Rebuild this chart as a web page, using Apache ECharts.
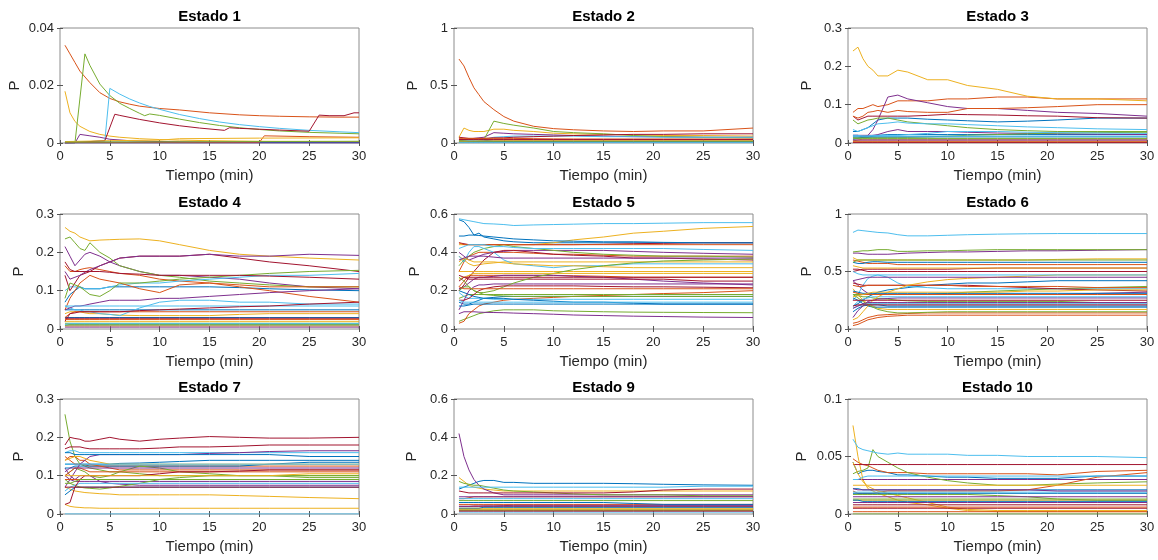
<!DOCTYPE html>
<html>
<head>
<meta charset="utf-8">
<title>Estados</title>
<script src="https://cdn.jsdelivr.net/npm/echarts@6/dist/echarts.min.js"></script>
<style>
  html, body { margin: 0; padding: 0; background: #fff; }
  #chart { width: 1158px; height: 560px; }
</style>
</head>
<body>
<div id="chart"></div>
<script>
// Common sampling times (min) for states 2-10
const tiempo = [0.5, 1, 1.5, 2, 2.5, 3, 4, 5, 6, 8, 10, 12, 15, 18, 21, 25, 30];

// State 1: irregular jumps, stored as [t, P] pairs
const estado1 = [
  [[0.5,0.0004],[5,0.0003],[15,0.0002],[30,0.0002]],
  [[0.5,0.034],[1,0.031],[1.5,0.028],[2,0.025],[3,0.021],[4,0.0175],[5,0.0155],[6,0.0143],[7,0.0135],[8,0.0128],[10,0.012],[12,0.0115],[15,0.0105],[18,0.0098],[20,0.0095],[22,0.0093],[25,0.0091],[28,0.009],[30,0.009]],
  [[0.5,0.018],[1,0.0105],[1.5,0.0075],[2,0.0058],[3,0.004],[4,0.003],[5,0.0024],[6,0.002],[8,0.0015],[10,0.0012],[12,0.001],[15,0.0008],[20,0.0006],[30,0.0005]],
  [[0.5,0],[1.5,0],[2,0.003],[3,0.0025],[4,0.002],[5,0.0013],[7,0.0008],[10,0.0005],[15,0.0003],[30,0.0002]],
  [[0.5,0],[1.5,0],[2.5,0.031],[3,0.027],[4,0.0205],[5,0.0165],[6,0.0138],[7,0.012],[8,0.0103],[8.5,0.0095],[9,0.0101],[10,0.0096],[12,0.0083],[14,0.0071],[16,0.0061],[18,0.0053],[20,0.0047],[22,0.0042],[25,0.0037],[28,0.0034],[30,0.0032]],
  [[0.5,0],[4.5,0.0008],[5,0.019],[6,0.017],[7,0.0153],[8,0.0139],[9,0.0127],[10,0.0117],[12,0.0099],[14,0.0085],[16,0.0073],[18,0.0064],[20,0.0057],[22,0.0051],[25,0.0044],[28,0.0039],[30,0.0036]],
  [[0.5,0],[4.5,0.0008],[5.5,0.01],[6,0.0096],[8,0.0082],[10,0.007],[12,0.006],[14,0.0052],[16.5,0.0044],[17,0.0053],[18,0.0051],[20,0.0048],[22,0.0045],[25,0.0041],[26,0.0097],[27,0.0095],[28.5,0.0095],[29.5,0.0105],[30,0.0105]],
  [[0.5,0.0001],[30,0.0001]],
  [[0.5,0.0002],[20,0.0002],[20.5,0.0025],[25,0.0022],[30,0.002]],
  [[0.5,0.0005],[5,0.0008],[10,0.001],[12,0.0015],[20,0.0017],[30,0.0018]],
  [[0.5,0],[30,0]],
  [[0.5,0.0003],[30,0.0006]]
];

const estado2 = [
  [0.02,0.02,0.02,0.02,0.02,0.02,0.025,0.025,0.025,0.025,0.025,0.025,0.025,0.025,0.025,0.025,0.025],
  [0.73,0.67,0.57,0.48,0.42,0.36,0.29,0.23,0.19,0.145,0.125,0.115,0.105,0.1,0.105,0.105,0.13],
  [0.05,0.13,0.11,0.1,0.1,0.1,0.12,0.12,0.11,0.1,0.085,0.08,0.075,0.07,0.065,0.065,0.06],
  [0.03,0.03,0.035,0.04,0.045,0.05,0.09,0.085,0.08,0.075,0.07,0.065,0.06,0.055,0.055,0.05,0.05],
  [0.02,0.02,0.025,0.025,0.025,0.03,0.19,0.17,0.155,0.13,0.1,0.09,0.08,0.065,0.055,0.05,0.045],
  [0.01,0.015,0.02,0.02,0.025,0.03,0.05,0.055,0.06,0.06,0.06,0.06,0.055,0.055,0.05,0.05,0.05],
  [0.05,0.045,0.04,0.04,0.04,0.04,0.045,0.045,0.05,0.055,0.06,0.065,0.07,0.075,0.075,0.08,0.08],
  [0.01,0.01,0.012,0.012,0.012,0.012,0.012,0.012,0.012,0.012,0.012,0.012,0.012,0.012,0.012,0.012,0.012],
  [0.04,0.04,0.04,0.04,0.04,0.04,0.04,0.04,0.04,0.038,0.036,0.035,0.035,0.035,0.035,0.035,0.035],
  [0.015,0.015,0.016,0.017,0.018,0.018,0.019,0.02,0.02,0.02,0.02,0.02,0.02,0.02,0.02,0.02,0.02],
  [0.005,0.005,0.005,0.005,0.005,0.005,0.005,0.005,0.005,0.005,0.005,0.005,0.005,0.005,0.005,0.005,0.005],
  [0.008,0.008,0.008,0.009,0.009,0.009,0.01,0.01,0.01,0.01,0.01,0.01,0.01,0.01,0.01,0.01,0.01],
  [0.003,0.003,0.003,0.003,0.003,0.003,0.003,0.003,0.003,0.003,0.003,0.003,0.003,0.003,0.003,0.003,0.003],
  [0.03,0.03,0.03,0.03,0.03,0.03,0.03,0.03,0.03,0.03,0.03,0.03,0.03,0.03,0.03,0.03,0.03]
];

const estado3 = [
  [0.03,0.03,0.035,0.04,0.05,0.06,0.065,0.065,0.065,0.062,0.06,0.058,0.055,0.057,0.06,0.065,0.065],
  [0.08,0.09,0.09,0.095,0.1,0.095,0.1,0.11,0.11,0.11,0.115,0.115,0.12,0.12,0.115,0.115,0.115],
  [0.24,0.25,0.22,0.2,0.19,0.175,0.175,0.19,0.185,0.165,0.165,0.15,0.14,0.122,0.115,0.115,0.11],
  [0.02,0.02,0.015,0.02,0.035,0.06,0.12,0.125,0.115,0.105,0.095,0.09,0.09,0.085,0.08,0.077,0.07],
  [0.06,0.05,0.055,0.06,0.062,0.065,0.065,0.06,0.055,0.05,0.045,0.04,0.035,0.032,0.03,0.03,0.03],
  [0.035,0.03,0.035,0.04,0.045,0.05,0.052,0.055,0.052,0.05,0.05,0.048,0.045,0.042,0.04,0.037,0.035],
  [0.07,0.06,0.065,0.07,0.07,0.07,0.07,0.07,0.07,0.072,0.075,0.074,0.073,0.071,0.07,0.066,0.065],
  [0.01,0.012,0.015,0.015,0.018,0.02,0.022,0.022,0.022,0.022,0.022,0.022,0.022,0.022,0.022,0.022,0.022],
  [0.07,0.065,0.07,0.08,0.082,0.085,0.08,0.085,0.082,0.08,0.08,0.09,0.09,0.092,0.095,0.1,0.1],
  [0.005,0.008,0.01,0.01,0.01,0.01,0.01,0.01,0.01,0.01,0.01,0.01,0.01,0.01,0.01,0.01,0.01],
  [0.02,0.02,0.02,0.02,0.02,0.022,0.03,0.035,0.03,0.03,0.03,0.028,0.026,0.025,0.024,0.023,0.022],
  [0.015,0.015,0.015,0.015,0.015,0.015,0.015,0.015,0.015,0.016,0.018,0.02,0.022,0.024,0.026,0.027,0.028],
  [0.02,0.02,0.018,0.018,0.02,0.02,0.02,0.02,0.022,0.025,0.03,0.03,0.03,0.028,0.027,0.026,0.025],
  [0.005,0.005,0.005,0.005,0.005,0.005,0.005,0.005,0.005,0.005,0.005,0.005,0.005,0.005,0.005,0.005,0.005],
  [0.016,0.016,0.016,0.016,0.016,0.016,0.016,0.016,0.016,0.016,0.016,0.016,0.016,0.016,0.016,0.016,0.016],
  [0.003,0.003,0.003,0.003,0.003,0.003,0.003,0.003,0.003,0.003,0.003,0.003,0.003,0.003,0.003,0.003,0.003],
  [0.002,0.002,0.002,0.002,0.002,0.002,0.002,0.002,0.002,0.002,0.002,0.002,0.002,0.002,0.002,0.002,0.002],
  [0.008,0.008,0.008,0.008,0.008,0.008,0.008,0.008,0.008,0.008,0.008,0.008,0.008,0.008,0.008,0.008,0.008],
  [0.012,0.012,0.012,0.012,0.012,0.012,0.012,0.012,0.012,0.012,0.012,0.012,0.012,0.012,0.012,0.012,0.012],
  [0.018,0.018,0.018,0.018,0.018,0.018,0.018,0.018,0.018,0.018,0.018,0.018,0.018,0.018,0.018,0.018,0.018],
  [0.001,0.001,0.001,0.001,0.001,0.001,0.001,0.001,0.001,0.001,0.001,0.001,0.001,0.001,0.001,0.001,0.001]
];

const estado4 = [
  [0.07,0.09,0.1,0.11,0.105,0.105,0.105,0.11,0.11,0.11,0.11,0.11,0.11,0.108,0.105,0.102,0.1],
  [0.165,0.15,0.15,0.155,0.158,0.16,0.155,0.15,0.145,0.14,0.13,0.125,0.12,0.11,0.1,0.085,0.07],
  [0.265,0.255,0.25,0.24,0.235,0.23,0.232,0.233,0.234,0.235,0.23,0.22,0.205,0.195,0.19,0.185,0.18],
  [0.215,0.19,0.165,0.18,0.195,0.2,0.19,0.175,0.165,0.15,0.14,0.14,0.135,0.13,0.12,0.11,0.105],
  [0.235,0.24,0.225,0.21,0.205,0.225,0.2,0.185,0.165,0.15,0.14,0.135,0.125,0.12,0.115,0.11,0.11],
  [0.1,0.11,0.11,0.108,0.105,0.105,0.105,0.11,0.115,0.12,0.12,0.125,0.13,0.135,0.14,0.14,0.145],
  [0.14,0.1,0.12,0.14,0.145,0.15,0.165,0.175,0.185,0.19,0.19,0.19,0.195,0.185,0.175,0.165,0.15],
  [0.05,0.05,0.05,0.05,0.05,0.05,0.05,0.05,0.05,0.05,0.05,0.05,0.05,0.05,0.05,0.05,0.05],
  [0.05,0.08,0.1,0.12,0.13,0.14,0.13,0.125,0.12,0.105,0.095,0.115,0.12,0.115,0.11,0.11,0.11],
  [0.04,0.045,0.045,0.045,0.042,0.04,0.04,0.038,0.036,0.035,0.035,0.035,0.035,0.038,0.04,0.04,0.04],
  [0.15,0.13,0.135,0.14,0.148,0.155,0.165,0.175,0.185,0.19,0.19,0.19,0.195,0.19,0.19,0.195,0.192],
  [0.08,0.12,0.115,0.11,0.1,0.09,0.085,0.1,0.12,0.12,0.125,0.13,0.135,0.14,0.145,0.15,0.153],
  [0.06,0.055,0.05,0.05,0.045,0.045,0.04,0.038,0.035,0.055,0.07,0.075,0.075,0.07,0.07,0.065,0.065],
  [0.175,0.155,0.15,0.15,0.15,0.15,0.15,0.148,0.145,0.143,0.14,0.14,0.14,0.14,0.138,0.135,0.13],
  [0.03,0.03,0.03,0.03,0.03,0.03,0.03,0.03,0.03,0.03,0.03,0.03,0.03,0.03,0.03,0.03,0.03],
  [0.03,0.04,0.045,0.045,0.045,0.045,0.045,0.045,0.045,0.045,0.045,0.045,0.045,0.045,0.045,0.045,0.045],
  [0.02,0.02,0.02,0.02,0.02,0.02,0.02,0.02,0.02,0.02,0.02,0.02,0.02,0.02,0.02,0.02,0.02],
  [0.05,0.055,0.06,0.06,0.062,0.065,0.07,0.075,0.075,0.075,0.08,0.08,0.085,0.09,0.095,0.1,0.105],
  [0.015,0.015,0.015,0.015,0.015,0.015,0.015,0.015,0.015,0.015,0.015,0.015,0.015,0.015,0.015,0.015,0.015],
  [0.06,0.06,0.06,0.06,0.06,0.06,0.06,0.06,0.06,0.06,0.06,0.06,0.06,0.06,0.06,0.06,0.06],
  [0.02,0.04,0.042,0.045,0.045,0.045,0.045,0.045,0.045,0.048,0.05,0.052,0.055,0.058,0.06,0.065,0.07],
  [0.01,0.01,0.01,0.01,0.01,0.01,0.01,0.01,0.01,0.01,0.01,0.01,0.01,0.01,0.01,0.01,0.01],
  [0.025,0.025,0.025,0.025,0.025,0.025,0.025,0.025,0.025,0.025,0.025,0.025,0.025,0.025,0.025,0.025,0.025],
  [0.008,0.008,0.008,0.008,0.008,0.008,0.008,0.008,0.008,0.008,0.008,0.008,0.008,0.008,0.008,0.008,0.008],
  [0.005,0.005,0.005,0.005,0.005,0.005,0.005,0.005,0.005,0.005,0.005,0.005,0.005,0.005,0.005,0.005,0.005],
  [0.01,0.012,0.012,0.012,0.012,0.012,0.012,0.012,0.012,0.012,0.012,0.012,0.012,0.012,0.012,0.012,0.012],
  [0.012,0.014,0.014,0.014,0.014,0.014,0.014,0.014,0.014,0.014,0.014,0.014,0.014,0.014,0.014,0.014,0.014],
  [0.028,0.028,0.028,0.028,0.028,0.028,0.028,0.028,0.028,0.028,0.028,0.028,0.028,0.028,0.028,0.028,0.028]
];

const estado5 = [
  [0.57,0.56,0.53,0.49,0.5,0.48,0.47,0.46,0.455,0.45,0.45,0.45,0.45,0.45,0.45,0.45,0.45],
  [0.3,0.35,0.38,0.39,0.4,0.4,0.4,0.4,0.4,0.395,0.39,0.39,0.385,0.38,0.38,0.38,0.38],
  [0.44,0.44,0.44,0.44,0.44,0.44,0.44,0.44,0.44,0.44,0.45,0.465,0.48,0.5,0.51,0.525,0.535],
  [0.4,0.38,0.36,0.37,0.38,0.39,0.4,0.405,0.41,0.41,0.41,0.41,0.41,0.405,0.4,0.395,0.39],
  [0.04,0.05,0.06,0.07,0.08,0.085,0.095,0.1,0.1,0.1,0.095,0.093,0.09,0.088,0.087,0.086,0.085],
  [0.575,0.57,0.565,0.56,0.555,0.55,0.548,0.545,0.54,0.543,0.545,0.547,0.55,0.55,0.552,0.555,0.555],
  [0.45,0.445,0.44,0.44,0.44,0.44,0.44,0.44,0.44,0.44,0.44,0.44,0.442,0.445,0.447,0.45,0.45],
  [0.485,0.485,0.49,0.49,0.488,0.485,0.48,0.475,0.47,0.465,0.46,0.458,0.455,0.455,0.452,0.45,0.45],
  [0.22,0.25,0.28,0.28,0.28,0.28,0.28,0.28,0.28,0.28,0.28,0.278,0.275,0.27,0.27,0.27,0.27],
  [0.38,0.36,0.34,0.33,0.335,0.34,0.345,0.35,0.35,0.35,0.35,0.35,0.35,0.35,0.35,0.35,0.35],
  [0.08,0.09,0.09,0.09,0.088,0.087,0.086,0.085,0.083,0.08,0.077,0.073,0.07,0.067,0.065,0.062,0.06],
  [0.33,0.36,0.38,0.4,0.41,0.42,0.43,0.44,0.43,0.42,0.41,0.4,0.39,0.385,0.38,0.38,0.375],
  [0.38,0.35,0.4,0.43,0.43,0.42,0.4,0.36,0.34,0.33,0.32,0.33,0.33,0.34,0.34,0.34,0.34],
  [0.2,0.23,0.27,0.3,0.33,0.36,0.4,0.41,0.41,0.4,0.39,0.385,0.38,0.37,0.37,0.365,0.36],
  [0.14,0.13,0.13,0.14,0.15,0.16,0.165,0.17,0.17,0.17,0.17,0.17,0.17,0.17,0.17,0.17,0.17],
  [0.03,0.04,0.08,0.1,0.12,0.13,0.14,0.15,0.155,0.16,0.165,0.17,0.175,0.18,0.185,0.19,0.2],
  [0.3,0.3,0.3,0.3,0.3,0.3,0.3,0.3,0.3,0.3,0.3,0.3,0.3,0.3,0.3,0.3,0.3],
  [0.21,0.22,0.24,0.26,0.27,0.27,0.275,0.28,0.28,0.28,0.28,0.275,0.27,0.26,0.25,0.24,0.23],
  [0.16,0.17,0.18,0.18,0.18,0.18,0.18,0.18,0.18,0.18,0.18,0.18,0.18,0.18,0.18,0.18,0.18],
  [0.19,0.17,0.16,0.16,0.16,0.16,0.155,0.155,0.155,0.155,0.155,0.155,0.155,0.155,0.155,0.155,0.155],
  [0.28,0.27,0.26,0.26,0.26,0.26,0.26,0.26,0.26,0.26,0.26,0.26,0.26,0.26,0.26,0.25,0.25],
  [0.2,0.19,0.18,0.17,0.165,0.16,0.16,0.16,0.155,0.15,0.145,0.14,0.14,0.135,0.13,0.13,0.13],
  [0.45,0.44,0.44,0.44,0.44,0.44,0.44,0.44,0.44,0.44,0.44,0.44,0.44,0.44,0.44,0.44,0.44],
  [0.35,0.37,0.36,0.35,0.35,0.35,0.35,0.345,0.34,0.335,0.33,0.33,0.325,0.32,0.32,0.32,0.32],
  [0.1,0.15,0.2,0.22,0.23,0.23,0.235,0.235,0.235,0.235,0.235,0.235,0.235,0.235,0.235,0.235,0.235],
  [0.2,0.22,0.22,0.2,0.19,0.19,0.2,0.22,0.24,0.27,0.29,0.31,0.33,0.345,0.355,0.36,0.365],
  [0.42,0.43,0.44,0.44,0.44,0.44,0.43,0.43,0.425,0.42,0.42,0.42,0.42,0.42,0.42,0.415,0.41],
  [0.15,0.15,0.16,0.18,0.2,0.21,0.22,0.225,0.225,0.225,0.225,0.225,0.222,0.22,0.22,0.218,0.215],
  [0.12,0.12,0.125,0.13,0.13,0.13,0.13,0.13,0.13,0.13,0.13,0.13,0.13,0.13,0.13,0.13,0.13],
  [0.22,0.21,0.21,0.21,0.21,0.21,0.21,0.21,0.21,0.21,0.21,0.21,0.21,0.21,0.21,0.21,0.21],
  [0.26,0.27,0.28,0.29,0.29,0.29,0.29,0.29,0.29,0.29,0.29,0.29,0.29,0.29,0.29,0.29,0.29],
  [0.36,0.37,0.38,0.38,0.38,0.38,0.375,0.37,0.37,0.37,0.37,0.37,0.37,0.37,0.37,0.37,0.37],
  [0.27,0.25,0.22,0.2,0.19,0.18,0.175,0.172,0.17,0.17,0.17,0.17,0.17,0.17,0.17,0.17,0.17],
  [0.15,0.14,0.14,0.14,0.14,0.14,0.14,0.14,0.14,0.14,0.14,0.14,0.14,0.14,0.14,0.14,0.14],
  [0.25,0.27,0.27,0.27,0.27,0.27,0.27,0.27,0.27,0.27,0.27,0.27,0.27,0.27,0.27,0.27,0.27]
];

const estado6 = [
  [0.2,0.22,0.25,0.28,0.3,0.32,0.34,0.35,0.36,0.38,0.39,0.4,0.4,0.41,0.42,0.42,0.42],
  [0.6,0.59,0.58,0.57,0.57,0.57,0.57,0.56,0.56,0.56,0.56,0.56,0.56,0.56,0.56,0.56,0.56],
  [0.62,0.6,0.6,0.6,0.6,0.6,0.6,0.6,0.6,0.6,0.6,0.6,0.6,0.6,0.605,0.61,0.61],
  [0.66,0.66,0.655,0.65,0.65,0.65,0.65,0.655,0.66,0.665,0.67,0.67,0.675,0.68,0.68,0.685,0.69],
  [0.67,0.675,0.68,0.68,0.685,0.69,0.69,0.675,0.675,0.68,0.68,0.685,0.69,0.69,0.69,0.69,0.69],
  [0.84,0.86,0.855,0.85,0.845,0.84,0.835,0.82,0.81,0.81,0.815,0.82,0.825,0.828,0.83,0.83,0.83],
  [0.52,0.52,0.51,0.5,0.5,0.5,0.5,0.5,0.5,0.5,0.5,0.5,0.5,0.5,0.5,0.5,0.5],
  [0.58,0.57,0.57,0.58,0.585,0.585,0.58,0.58,0.58,0.58,0.58,0.58,0.58,0.58,0.58,0.58,0.58],
  [0.05,0.06,0.08,0.1,0.11,0.12,0.125,0.13,0.135,0.14,0.14,0.14,0.14,0.14,0.14,0.14,0.14],
  [0.35,0.3,0.25,0.22,0.2,0.18,0.17,0.17,0.17,0.17,0.17,0.17,0.17,0.17,0.17,0.17,0.17],
  [0.42,0.38,0.34,0.31,0.3,0.3,0.3,0.3,0.3,0.3,0.3,0.3,0.3,0.3,0.3,0.31,0.32],
  [0.3,0.29,0.28,0.28,0.27,0.265,0.26,0.25,0.245,0.24,0.24,0.24,0.24,0.24,0.24,0.23,0.23],
  [0.25,0.3,0.38,0.44,0.46,0.47,0.45,0.4,0.37,0.36,0.35,0.35,0.35,0.35,0.35,0.35,0.35],
  [0.5,0.51,0.52,0.52,0.52,0.52,0.52,0.52,0.52,0.52,0.52,0.525,0.53,0.53,0.53,0.53,0.53],
  [0.15,0.18,0.2,0.21,0.21,0.21,0.2,0.2,0.2,0.2,0.2,0.2,0.2,0.2,0.2,0.2,0.2],
  [0.03,0.04,0.06,0.08,0.09,0.1,0.11,0.115,0.12,0.12,0.12,0.12,0.12,0.12,0.12,0.12,0.12],
  [0.55,0.54,0.53,0.53,0.53,0.53,0.53,0.53,0.53,0.53,0.53,0.53,0.53,0.53,0.53,0.53,0.53],
  [0.1,0.16,0.2,0.24,0.25,0.26,0.265,0.27,0.27,0.27,0.27,0.27,0.27,0.27,0.27,0.27,0.27],
  [0.3,0.3,0.3,0.3,0.3,0.3,0.3,0.3,0.3,0.3,0.31,0.32,0.33,0.34,0.35,0.36,0.37],
  [0.2,0.24,0.26,0.27,0.28,0.28,0.28,0.28,0.28,0.28,0.28,0.28,0.28,0.28,0.28,0.28,0.28],
  [0.4,0.39,0.38,0.38,0.38,0.38,0.38,0.38,0.38,0.38,0.38,0.38,0.37,0.36,0.35,0.34,0.33],
  [0.27,0.25,0.22,0.2,0.19,0.19,0.19,0.19,0.19,0.19,0.19,0.19,0.19,0.19,0.19,0.19,0.19],
  [0.38,0.37,0.37,0.38,0.38,0.38,0.38,0.38,0.38,0.38,0.38,0.37,0.37,0.37,0.37,0.36,0.36],
  [0.08,0.1,0.15,0.2,0.25,0.28,0.32,0.35,0.38,0.41,0.43,0.44,0.45,0.46,0.47,0.47,0.47],
  [0.42,0.43,0.44,0.45,0.45,0.45,0.45,0.45,0.45,0.45,0.45,0.45,0.45,0.45,0.45,0.45,0.45],
  [0.3,0.27,0.24,0.21,0.19,0.17,0.15,0.14,0.14,0.145,0.15,0.15,0.15,0.15,0.15,0.15,0.15],
  [0.18,0.2,0.21,0.22,0.22,0.22,0.22,0.22,0.22,0.22,0.22,0.22,0.22,0.22,0.22,0.22,0.22],
  [0.25,0.25,0.25,0.25,0.25,0.25,0.25,0.25,0.25,0.25,0.25,0.25,0.25,0.25,0.25,0.25,0.25],
  [0.33,0.32,0.31,0.31,0.31,0.31,0.31,0.31,0.31,0.31,0.31,0.31,0.31,0.31,0.31,0.31,0.31],
  [0.32,0.31,0.3,0.3,0.3,0.3,0.3,0.3,0.3,0.3,0.3,0.3,0.3,0.3,0.3,0.3,0.3],
  [0.28,0.29,0.3,0.31,0.32,0.32,0.32,0.32,0.32,0.32,0.32,0.32,0.32,0.33,0.33,0.34,0.34],
  [0.18,0.2,0.22,0.23,0.23,0.23,0.23,0.23,0.23,0.23,0.23,0.23,0.23,0.23,0.23,0.23,0.23],
  [0.58,0.6,0.6,0.6,0.6,0.6,0.6,0.6,0.6,0.6,0.6,0.6,0.6,0.6,0.6,0.6,0.6],
  [0.5,0.48,0.47,0.47,0.47,0.47,0.47,0.47,0.47,0.47,0.47,0.47,0.47,0.47,0.47,0.47,0.47],
  [0.2,0.21,0.21,0.21,0.21,0.21,0.21,0.21,0.21,0.21,0.21,0.21,0.21,0.21,0.21,0.21,0.21]
];

const estado7 = [
  [0.13,0.13,0.13,0.13,0.13,0.13,0.13,0.13,0.132,0.133,0.135,0.137,0.14,0.14,0.14,0.14,0.14],
  [0.15,0.14,0.13,0.13,0.128,0.125,0.125,0.125,0.125,0.125,0.125,0.125,0.125,0.125,0.125,0.125,0.125],
  [0.07,0.065,0.06,0.058,0.056,0.055,0.053,0.052,0.05,0.05,0.05,0.05,0.05,0.048,0.046,0.043,0.04],
  [0.12,0.1,0.09,0.1,0.1,0.1,0.085,0.08,0.078,0.075,0.075,0.075,0.075,0.075,0.075,0.075,0.075],
  [0.26,0.19,0.15,0.13,0.125,0.12,0.115,0.11,0.11,0.105,0.1,0.1,0.1,0.1,0.1,0.1,0.1],
  [0.16,0.165,0.165,0.16,0.16,0.16,0.16,0.16,0.16,0.16,0.16,0.16,0.16,0.16,0.16,0.16,0.16],
  [0.18,0.2,0.197,0.195,0.19,0.19,0.195,0.2,0.195,0.19,0.195,0.198,0.202,0.2,0.198,0.198,0.2],
  [0.12,0.12,0.125,0.125,0.125,0.125,0.125,0.125,0.125,0.125,0.125,0.125,0.125,0.125,0.13,0.135,0.135],
  [0.14,0.15,0.15,0.14,0.14,0.13,0.125,0.12,0.115,0.115,0.115,0.115,0.115,0.115,0.115,0.115,0.115],
  [0.025,0.02,0.018,0.017,0.016,0.016,0.015,0.015,0.015,0.015,0.015,0.015,0.015,0.015,0.015,0.015,0.015],
  [0.07,0.09,0.11,0.13,0.14,0.15,0.155,0.155,0.155,0.155,0.155,0.155,0.158,0.16,0.163,0.165,0.165],
  [0.1,0.11,0.12,0.115,0.11,0.1,0.095,0.1,0.11,0.125,0.12,0.11,0.105,0.1,0.1,0.095,0.095],
  [0,0,0,0,0,0,0,0,0,0,0,0,0,0,0,0,0],
  [0.17,0.175,0.175,0.175,0.172,0.17,0.17,0.17,0.17,0.17,0.172,0.175,0.175,0.177,0.18,0.18,0.18],
  [0.05,0.06,0.07,0.07,0.07,0.07,0.07,0.07,0.07,0.07,0.07,0.07,0.07,0.07,0.07,0.07,0.07],
  [0.1,0.11,0.12,0.12,0.115,0.11,0.11,0.11,0.11,0.11,0.11,0.11,0.11,0.11,0.11,0.11,0.11],
  [0.14,0.145,0.15,0.15,0.145,0.14,0.135,0.13,0.13,0.13,0.13,0.13,0.13,0.13,0.13,0.13,0.13],
  [0.1,0.09,0.085,0.085,0.085,0.085,0.085,0.085,0.085,0.085,0.085,0.085,0.085,0.085,0.085,0.085,0.085],
  [0.09,0.08,0.075,0.07,0.068,0.067,0.065,0.068,0.072,0.08,0.09,0.095,0.1,0.1,0.1,0.1,0.1],
  [0.06,0.07,0.075,0.08,0.08,0.08,0.08,0.08,0.08,0.08,0.08,0.08,0.08,0.08,0.08,0.08,0.08],
  [0.025,0.03,0.07,0.09,0.1,0.1,0.1,0.1,0.1,0.1,0.105,0.11,0.11,0.112,0.115,0.115,0.115],
  [0.16,0.16,0.155,0.155,0.155,0.155,0.155,0.155,0.155,0.155,0.155,0.155,0.155,0.155,0.155,0.15,0.15],
  [0.09,0.09,0.09,0.09,0.09,0.09,0.09,0.09,0.09,0.09,0.09,0.09,0.09,0.09,0.09,0.09,0.09],
  [0.1,0.1,0.1,0.1,0.1,0.1,0.1,0.1,0.1,0.1,0.1,0.1,0.1,0.1,0.1,0.105,0.105],
  [0.11,0.12,0.12,0.12,0.12,0.12,0.12,0.12,0.12,0.12,0.12,0.12,0.12,0.12,0.12,0.12,0.12],
  [0.08,0.08,0.085,0.09,0.09,0.09,0.09,0.09,0.09,0.09,0.09,0.09,0.09,0.09,0.09,0.09,0.09],
  [0.13,0.13,0.13,0.13,0.13,0.13,0.13,0.13,0.13,0.13,0.13,0.13,0.13,0.13,0.13,0.13,0.13],
  [0.07,0.07,0.07,0.07,0.07,0.07,0.07,0.07,0.07,0.07,0.07,0.07,0.07,0.07,0.07,0.07,0.07]
];

const estado9 = [
  [0.13,0.14,0.15,0.16,0.17,0.175,0.175,0.165,0.165,0.16,0.16,0.16,0.16,0.158,0.155,0.152,0.15],
  [0.05,0.05,0.05,0.05,0.05,0.05,0.05,0.05,0.05,0.05,0.05,0.05,0.05,0.05,0.05,0.05,0.05],
  [0.19,0.17,0.15,0.14,0.135,0.13,0.125,0.12,0.12,0.12,0.12,0.12,0.12,0.12,0.12,0.12,0.12],
  [0.42,0.3,0.23,0.18,0.15,0.13,0.11,0.1,0.1,0.1,0.1,0.1,0.1,0.1,0.1,0.1,0.1],
  [0.17,0.16,0.155,0.15,0.15,0.145,0.135,0.125,0.12,0.115,0.11,0.105,0.1,0.1,0.1,0.095,0.095],
  [0.14,0.14,0.14,0.14,0.14,0.14,0.14,0.14,0.14,0.14,0.14,0.14,0.14,0.14,0.14,0.145,0.145],
  [0.12,0.115,0.11,0.11,0.11,0.11,0.11,0.11,0.11,0.11,0.11,0.11,0.11,0.115,0.125,0.13,0.13],
  [0.06,0.06,0.06,0.06,0.06,0.06,0.06,0.06,0.06,0.06,0.06,0.06,0.06,0.055,0.05,0.05,0.05],
  [0.08,0.08,0.085,0.09,0.09,0.09,0.09,0.09,0.09,0.09,0.09,0.09,0.09,0.09,0.09,0.09,0.09],
  [0.03,0.03,0.03,0.03,0.03,0.03,0.03,0.03,0.03,0.03,0.03,0.03,0.03,0.03,0.03,0.03,0.03],
  [0.09,0.09,0.09,0.09,0.09,0.09,0.09,0.09,0.09,0.09,0.09,0.09,0.09,0.09,0.09,0.09,0.09],
  [0.07,0.07,0.07,0.07,0.07,0.07,0.07,0.07,0.07,0.07,0.07,0.07,0.07,0.07,0.07,0.07,0.07],
  [0.01,0.01,0.01,0.01,0.01,0.01,0.01,0.01,0.01,0.01,0.01,0.01,0.01,0.01,0.01,0.01,0.01],
  [0.04,0.04,0.04,0.04,0.04,0.04,0.04,0.04,0.04,0.04,0.04,0.04,0.04,0.04,0.04,0.04,0.04],
  [0.03,0.03,0.03,0.03,0.03,0.035,0.035,0.035,0.035,0.035,0.035,0.035,0.035,0.035,0.035,0.035,0.035],
  [0.02,0.02,0.02,0.02,0.02,0.02,0.02,0.02,0.02,0.02,0.02,0.02,0.02,0.02,0.02,0.02,0.02],
  [0.025,0.025,0.025,0.025,0.025,0.025,0.025,0.025,0.025,0.025,0.025,0.025,0.025,0.025,0.025,0.025,0.025],
  [0.04,0.04,0.04,0.042,0.042,0.043,0.043,0.044,0.045,0.045,0.045,0.045,0.045,0.045,0.045,0.045,0.045],
  [0.02,0.02,0.02,0.02,0.02,0.02,0.02,0.02,0.02,0.02,0.02,0.02,0.02,0.02,0.02,0.02,0.02],
  [0.08,0.08,0.08,0.08,0.08,0.08,0.08,0.08,0.08,0.08,0.08,0.08,0.08,0.08,0.08,0.08,0.08],
  [0.015,0.015,0.015,0.015,0.015,0.015,0.015,0.015,0.015,0.015,0.015,0.015,0.015,0.015,0.015,0.015,0.015]
];

const estado10 = [
  [0.045,0.035,0.037,0.038,0.038,0.037,0.036,0.034,0.034,0.033,0.032,0.032,0.031,0.031,0.031,0.033,0.033],
  [0.048,0.045,0.043,0.042,0.04,0.038,0.036,0.036,0.036,0.035,0.035,0.035,0.035,0.035,0.034,0.037,0.038],
  [0.077,0.05,0.03,0.022,0.02,0.018,0.015,0.012,0.01,0.008,0.005,0.003,0.002,0.002,0.002,0.002,0.002],
  [0.03,0.03,0.03,0.03,0.03,0.03,0.03,0.03,0.03,0.03,0.03,0.03,0.03,0.03,0.03,0.03,0.03],
  [0.035,0.037,0.038,0.04,0.056,0.05,0.045,0.04,0.036,0.032,0.029,0.027,0.025,0.025,0.026,0.027,0.028],
  [0.065,0.058,0.056,0.055,0.054,0.053,0.052,0.053,0.052,0.052,0.052,0.051,0.051,0.05,0.05,0.05,0.049],
  [0.043,0.043,0.043,0.043,0.043,0.043,0.043,0.043,0.043,0.043,0.043,0.043,0.043,0.043,0.043,0.043,0.043],
  [0.022,0.022,0.021,0.021,0.021,0.021,0.021,0.021,0.021,0.021,0.021,0.021,0.021,0.021,0.021,0.021,0.021],
  [0.02,0.018,0.018,0.018,0.018,0.019,0.02,0.02,0.02,0.02,0.02,0.02,0.02,0.021,0.025,0.032,0.036],
  [0.045,0.035,0.028,0.024,0.022,0.02,0.018,0.016,0.014,0.01,0.006,0.004,0.003,0.003,0.003,0.003,0.003],
  [0.01,0.01,0.01,0.01,0.01,0.01,0.01,0.01,0.01,0.01,0.01,0.01,0.01,0.01,0.01,0.01,0.01],
  [0.017,0.017,0.017,0.017,0.017,0.017,0.017,0.017,0.017,0.017,0.017,0.017,0.016,0.015,0.013,0.013,0.013],
  [0.03,0.03,0.032,0.033,0.033,0.033,0.033,0.033,0.033,0.033,0.033,0.033,0.033,0.033,0.033,0.033,0.033],
  [0.008,0.008,0.008,0.008,0.008,0.008,0.008,0.008,0.008,0.008,0.008,0.008,0.008,0.008,0.008,0.008,0.008],
  [0.018,0.018,0.018,0.018,0.018,0.018,0.018,0.018,0.018,0.018,0.018,0.018,0.018,0.018,0.018,0.018,0.018],
  [0.002,0.002,0.002,0.002,0.002,0.002,0.002,0.002,0.002,0.002,0.002,0.002,0.002,0.002,0.002,0.002,0.002],
  [0.012,0.012,0.012,0.012,0.012,0.012,0.012,0.012,0.012,0.012,0.012,0.012,0.012,0.012,0.012,0.012,0.012],
  [0.015,0.015,0.015,0.015,0.015,0.015,0.015,0.015,0.015,0.015,0.015,0.015,0.015,0.015,0.015,0.015,0.015],
  [0.013,0.013,0.013,0.013,0.013,0.013,0.013,0.013,0.013,0.013,0.013,0.013,0.013,0.013,0.013,0.012,0.012],
  [0.019,0.019,0.019,0.019,0.019,0.019,0.019,0.019,0.019,0.019,0.019,0.019,0.019,0.019,0.019,0.019,0.019],
  [0.005,0.005,0.005,0.005,0.005,0.005,0.005,0.005,0.005,0.005,0.005,0.005,0.005,0.005,0.005,0.005,0.005],
  [0.012,0.012,0.011,0.011,0.011,0.011,0.011,0.011,0.011,0.011,0.011,0.011,0.011,0.011,0.011,0.011,0.011],
  [0.006,0.006,0.006,0.006,0.006,0.006,0.006,0.006,0.006,0.006,0.006,0.006,0.006,0.006,0.006,0.006,0.006],
  [0.025,0.025,0.025,0.025,0.025,0.025,0.025,0.025,0.025,0.025,0.025,0.025,0.025,0.025,0.025,0.025,0.025],
  [0.022,0.021,0.021,0.021,0.021,0.021,0.021,0.021,0.021,0.021,0.021,0.021,0.021,0.021,0.02,0.02,0.02],
  [0,0,0,0,0,0,0,0,0,0,0,0,0,0,0,0,0]
];

// Panel titles and y-axis ranges
const titulos = ['Estado 1','Estado 2','Estado 3','Estado 4','Estado 5','Estado 6','Estado 7','Estado 9','Estado 10'];
const yMax   = [0.04, 1, 0.3, 0.3, 0.6, 1, 0.3, 0.6, 0.1];
const yPaso  = [0.02, 0.5, 0.1, 0.1, 0.2, 0.5, 0.1, 0.2, 0.05];
const series_por_panel = [estado1, estado2, estado3, estado4, estado5, estado6, estado7, estado9, estado10];

// MATLAB default line colour order
const colores = ['#0072BD','#D95319','#EDB120','#7E2F8E','#77AC30','#4DBEEE','#A2142F'];

// Layout of the 3x3 subplot grid (px)
const izquierdas = [60, 454, 848];
const arribas = [28, 214, 399];
const ancho = 299, alto = 115;
const gapP = [38, 34, 34, 34, 32, 34, 34, 35, 39];

const fuente = 'Liberation Sans, Arial, Helvetica, sans-serif';
const gris = '#262626';
const borde = '#8c8c8c';

const grid = [], xAxis = [], yAxis = [], series = [];

titulos.forEach((titulo, i) => {
  const fila = Math.floor(i / 3), col = i % 3;
  grid.push({
    left: izquierdas[col], top: arribas[fila], width: ancho, height: alto,
    show: true, borderColor: borde, borderWidth: 1, backgroundColor: '#fff'
  });
  const tick = { show: true, inside: true, length: 3, lineStyle: { color: '#555', width: 1 } };
  // bottom x axis with labels
  xAxis.push({
    type: 'value', gridIndex: i, min: 0, max: 30, interval: 5, position: 'bottom',
    axisLine: { show: false }, axisTick: tick, splitLine: { show: false },
    axisLabel: { color: gris, fontSize: 13, fontFamily: fuente, margin: 7 },
    name: 'Tiempo (min)', nameLocation: 'middle', nameGap: 25,
    nameTextStyle: { color: gris, fontSize: 15, fontFamily: fuente }
  });
  // top x axis: box ticks + subplot title
  xAxis.push({
    type: 'value', gridIndex: i, min: 0, max: 30, interval: 5, position: 'top',
    axisLine: { show: false }, axisTick: tick, splitLine: { show: false },
    axisLabel: { show: false },
    name: titulo, nameLocation: 'middle', nameGap: 4,
    nameTextStyle: { color: '#000', fontSize: 15, fontWeight: 'bold', fontFamily: fuente }
  });
  yAxis.push({
    type: 'value', gridIndex: i, min: 0, max: yMax[i], interval: yPaso[i], position: 'left',
    axisLine: { show: false }, axisTick: tick, splitLine: { show: false },
    axisLabel: { color: gris, fontSize: 13, fontFamily: fuente, margin: 6 },
    name: 'P', nameLocation: 'middle', nameGap: gapP[i],
    nameTextStyle: { color: gris, fontSize: 15, fontFamily: fuente }
  });
  yAxis.push({
    type: 'value', gridIndex: i, min: 0, max: yMax[i], interval: yPaso[i], position: 'right',
    axisLine: { show: false }, axisTick: tick, splitLine: { show: false },
    axisLabel: { show: false }
  });

  series_por_panel[i].forEach((linea, k) => {
    const datos = i === 0 ? linea : tiempo.map((t, j) => [t, linea[j]]);
    const c = colores[k % colores.length];
    series.push({
      type: 'line', xAxisIndex: 2 * i, yAxisIndex: 2 * i, data: datos,
      showSymbol: false, symbol: 'none', silent: true, z: 3,
      lineStyle: { color: c, width: 1 }, itemStyle: { color: c }
    });
  });
});

const chart = echarts.init(document.getElementById('chart'), null, { renderer: 'canvas' });
chart.setOption({
  backgroundColor: '#fff',
  animation: false,
  textStyle: { fontFamily: fuente },
  grid, xAxis, yAxis, series
});
</script>
</body>
</html>
